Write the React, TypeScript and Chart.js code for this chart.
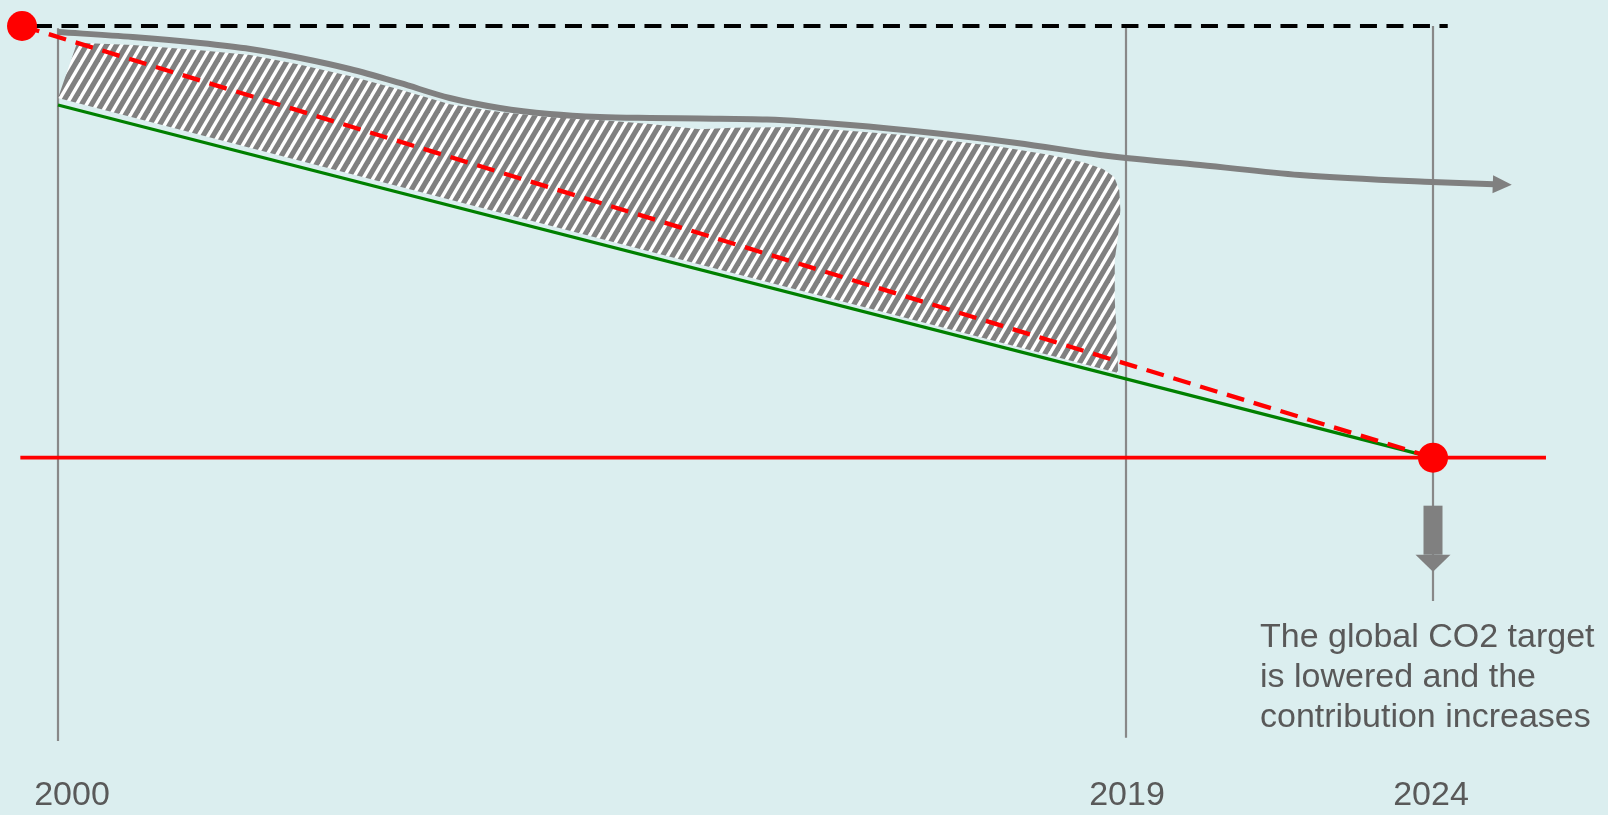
import React, { useEffect, useRef } from 'react';
import { Chart, registerables, LinearScale } from 'chart.js';

// ---------- data ----------
const tickYears = [2000, 2019, 2024];

// grey trend curve (index, top line = 100)
const trendYears = [2000, 2001.33, 2002.53, 2003.42, 2004.31, 2005.19, 2006.08, 2006.97, 2007.86, 2008.75, 2009.64, 2010.53, 2011.42, 2012.61, 2014.09, 2015.57, 2017.06, 2018.54, 2019, 2020.21, 2021.83, 2023.98, 2024.99];
const trendValues = [98.6, 97.45, 96.06, 94.67, 92.59, 90.04, 86.8, 83.32, 81.01, 79.62, 78.92, 78.69, 78.57, 78.34, 77.07, 75.21, 72.9, 70.12, 69.42, 67.8, 65.49, 63.86, 63.35];

// hatched gap area (closed outline)
const gapYears = [2000.34, 2001.33, 2002.53, 2003.42, 2004.31, 2005.19, 2006.08, 2006.97, 2007.86, 2008.75, 2009.64, 2010.53, 2011.42, 2012.01, 2013.2, 2014.98, 2016.76, 2017.65, 2018.27, 2018.59, 2018.79, 2018.88, 2018.9, 2018.86, 2018.8, 2018.8, 2018.84, 2018.86, 2000];
const gapValues = [96.1, 95.6, 94.4, 93.3, 91.0, 88.4, 85.3, 81.9, 80.1, 78.9, 78.2, 77.3, 76.1, 76.4, 76.6, 74.8, 72.0, 70.1, 68.3, 66.9, 65.0, 62.0, 57.4, 51.6, 45.8, 36.5, 27.3, 19.6, 83.3];

// green reduction path
const pathYears = [2000, 2024];
const pathValues = [81.7, 0];

// red dashed target path
const targetPathYears = [1999.36, 2024];
const targetPathValues = [100, 0];

// black dashed reference level
const refYears = [1999.59, 2024.24];
const refValues = [100, 100];

// red target level
const levelYears = [1999.33, 2025.84];
const levelValues = [0, 0];

// red points
const pointYears = [1999.36, 2024];
const pointValues = [100, 0];

// vertical year markers
const markerYears = [2000, 2019, 2024];
const markerTops = [99.5, 100, 100];
const markerBottoms = [-65.6, -64.9, -33.2];

const noteLines = ['The global CO2 target', 'is lowered and the', 'contribution increases'];

const FONT = '"Liberation Sans", Arial, sans-serif';
const TEXT = '#595959';
const GREY = '#808080';

// ---------- segmented (non-uniform) time scale ----------
class SegmentedScale extends LinearScale {
  static id = 'segmented';
  _interp(value: number, from: number[], to: number[]) {
    let i = from.length - 2;
    for (let k = 0; k < from.length - 1; k++) {
      if (value <= from[k + 1]) { i = k; break; }
    }
    return to[i] + (value - from[i]) * (to[i + 1] - to[i]) / (from[i + 1] - from[i]);
  }
  getPixelForValue(value: number) {
    if (value === null || value === undefined || isNaN(value)) return NaN;
    const o: any = this.options;
    const f = this._interp(value, o.anchorValues, o.anchorFractions);
    return this.getPixelForDecimal(f);
  }
  getValueForPixel(pixel: number) {
    const o: any = this.options;
    const f = this.getDecimalForPixel(pixel);
    return this._interp(f, o.anchorFractions, o.anchorValues);
  }
  _computeLabelItems(chartArea: any) {
    const items = (LinearScale.prototype as any)._computeLabelItems.call(this, chartArea);
    const shifts: number[] = (this.options as any).labelShifts || [];
    items.forEach((it: any, i: number) => {
      if (shifts[i] && it.options && it.options.translation) {
        it.options.translation = [it.options.translation[0] + shifts[i], it.options.translation[1]];
      }
    });
    return items;
  }
}

Chart.register(...registerables, SegmentedScale);

function makeHatch(): CanvasPattern | string {
  const p = 10, h = 17, g = 6;
  const c = document.createElement('canvas');
  c.width = p; c.height = h;
  const ctx = c.getContext('2d');
  if (!ctx) return GREY;
  ctx.fillStyle = '#ffffff';
  ctx.fillRect(0, 0, p, h);
  ctx.fillStyle = GREY;
  for (let k = -2; k <= 2; k++) {
    const x0 = k * p;
    ctx.beginPath();
    ctx.moveTo(x0, h);
    ctx.lineTo(x0 + g, h);
    ctx.lineTo(x0 + g + p, 0);
    ctx.lineTo(x0 + p, 0);
    ctx.closePath();
    ctx.fill();
  }
  return ctx.createPattern(c, 'repeat') || GREY;
}

const zip = (xs: number[], ys: number[]) => xs.map((x, i) => ({ x, y: ys[i] }));

const overlayPlugin = {
  id: 'overlay',
  afterDatasetsDraw(chart: any) {
    const ctx: CanvasRenderingContext2D = chart.ctx;
    const xs = chart.scales.x;
    const ys = chart.scales.y;
    // arrow head at end of trend curve
    const ti = chart.data.datasets.findIndex((d: any) => d.label === 'trend');
    const pts = chart.getDatasetMeta(ti).data;
    if (pts.length > 1) {
      const a = pts[pts.length - 2];
      const b = pts[pts.length - 1];
      const ang = Math.atan2(b.y - a.y, b.x - a.x);
      ctx.save();
      ctx.fillStyle = GREY;
      ctx.translate(b.x, b.y);
      ctx.rotate(ang);
      ctx.beginPath();
      ctx.moveTo(18, 0);
      ctx.lineTo(-1, -9);
      ctx.lineTo(-1, 9);
      ctx.closePath();
      ctx.fill();
      ctx.restore();
    }
    // block arrow below target point
    const cx = xs.getPixelForValue(pointYears[1]);
    const cy = ys.getPixelForValue(pointValues[1]);
    ctx.save();
    ctx.fillStyle = GREY;
    ctx.fillRect(cx - 9.5, cy + 48, 19, 49);
    ctx.beginPath();
    ctx.moveTo(cx - 17.5, cy + 97);
    ctx.lineTo(cx + 17.5, cy + 97);
    ctx.lineTo(cx, cy + 114);
    ctx.closePath();
    ctx.fill();
    // note text
    ctx.fillStyle = TEXT;
    ctx.font = `34px ${FONT}`;
    ctx.textAlign = 'left';
    ctx.textBaseline = 'alphabetic';
    noteLines.forEach((line, i) => {
      ctx.fillText(line, cx - 173, cy + 189 + i * 40);
    });
    ctx.restore();
  },
};

export default function App() {
  const ref = useRef<HTMLCanvasElement>(null);
  useEffect(() => {
    if (!ref.current) return;
    const hatch = makeHatch();
    const lineBase = { type: 'line' as const, pointRadius: 0, fill: false, tension: 0, clip: false as any };
    const markerSets = markerYears.map((yr, i) => ({
      ...lineBase,
      label: `marker${yr}`,
      data: [{ x: yr, y: markerTops[i] }, { x: yr, y: markerBottoms[i] }],
      borderColor: '#888888',
      borderWidth: 2.2,
      order: 10,
    }));
    const chart = new Chart(ref.current, {
      type: 'line',
      data: {
        datasets: [
          {
            ...lineBase,
            label: 'points',
            data: zip(pointYears, pointValues),
            showLine: false,
            pointRadius: 15,
            pointBackgroundColor: '#ff0000',
            pointBorderWidth: 0,
            borderColor: '#ff0000',
            order: 0,
          },
          {
            ...lineBase,
            label: 'targetPath',
            data: zip(targetPathYears, targetPathValues),
            borderColor: '#ff0000',
            borderWidth: 4.3,
            borderDash: [18, 10],
            order: 1,
          },
          {
            ...lineBase,
            label: 'trend',
            data: zip(trendYears, trendValues),
            borderColor: GREY,
            borderWidth: 6,
            cubicInterpolationMode: 'monotone',
            order: 2,
          },
          {
            ...lineBase,
            label: 'path',
            data: zip(pathYears, pathValues),
            borderColor: '#008000',
            borderWidth: 3.3,
            order: 3,
          },
          {
            ...lineBase,
            label: 'level',
            data: zip(levelYears, levelValues),
            borderColor: '#ff0000',
            borderWidth: 3.8,
            order: 4,
          },
          {
            ...lineBase,
            label: 'ref',
            data: zip(refYears, refValues),
            borderColor: '#000000',
            borderWidth: 4,
            borderDash: [17, 9.5],
            order: 5,
          },
          {
            ...lineBase,
            label: 'gap',
            data: zip(gapYears, gapValues),
            borderColor: 'rgba(0,0,0,0)',
            borderWidth: 0,
            backgroundColor: hatch as any,
            fill: 'shape',
            order: 6,
          },
          ...markerSets,
        ] as any,
      },
      options: {
        responsive: false,
        animation: false,
        events: [],
        layout: { padding: 0, autoPadding: false },
        plugins: { legend: { display: false }, tooltip: { enabled: false }, title: { display: false } },
        scales: {
          x: {
            type: 'segmented' as any,
            min: 1998.9,
            max: 2027.7,
            anchorValues: tickYears,
            anchorFractions: [58 / 1608, 1126 / 1608, 1433 / 1608],
            labelShifts: [14, 1, -2],
            grid: { display: false, drawTicks: false },
            border: { display: false },
            ticks: {
              autoSkip: false,
              maxRotation: 0,
              padding: 20,
              color: TEXT,
              font: { family: FONT, size: 34 },
              callback: (v: any) => String(v),
            },
            afterBuildTicks: (s: any) => { s.ticks = tickYears.map((v) => ({ value: v })); },
            afterFit: (s: any) => { s.height = 60; },
          } as any,
          y: { type: 'linear', display: false, min: -68.87, max: 106.02 },
        },
      },
      plugins: [overlayPlugin],
    });
    return () => chart.destroy();
  }, []);
  return (
    <div style={{ position: 'fixed', left: 0, top: 0, width: '100vw', height: '100vh', background: '#dbeeef' }}>
      <canvas ref={ref} width={1608} height={815} style={{ display: 'block' }} />
    </div>
  );
}
